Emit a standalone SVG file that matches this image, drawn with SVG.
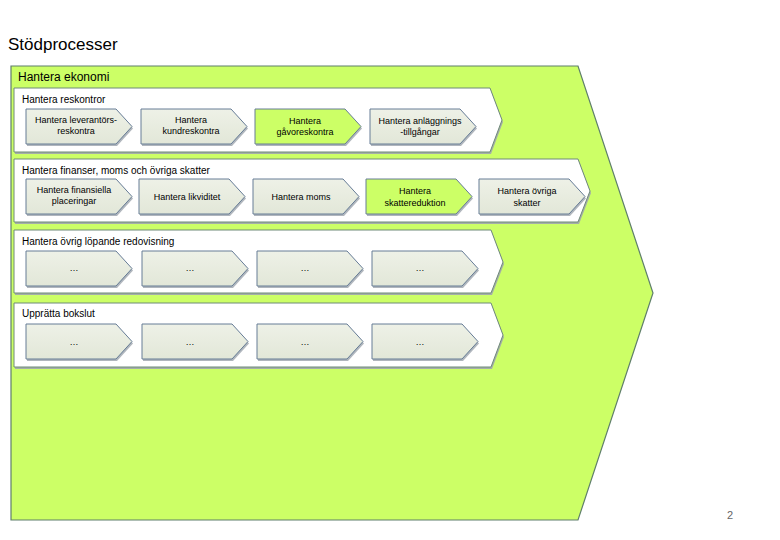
<svg xmlns="http://www.w3.org/2000/svg" width="780" height="540" viewBox="0 0 780 540">
<style>
text{font-family:"Liberation Sans",Arial,sans-serif;fill:#000}
.title{font-size:17px}
.h1{font-size:12px}
.h2{font-size:10px}
.t{font-size:9px;text-anchor:middle}
.band{fill:#fff;stroke:#6f8a78;stroke-width:1}
.bshadow{fill:#a4aea9}
.chev{fill:url(#g);stroke:#667c96;stroke-width:1}
.chevG{fill:#ccff66;stroke:#667c96;stroke-width:1}
.cshadow{fill:#b0b6bd}
</style>
<defs>
<linearGradient id="g" x1="0" y1="0" x2="0" y2="1">
<stop offset="0" stop-color="#eef1e7"/>
<stop offset="1" stop-color="#e2e7d8"/>
</linearGradient>
<polygon id="cv" points="0,0 90,0 106,17.5 90,35 0,35"/>
<polygon id="cs" points="1,2 91,2 107,19.5 91,37 1,37"/>
</defs>
<rect width="780" height="540" fill="#fff"/>
<text class="title" x="8" y="50">Stödprocesser</text>

<g id="ekonomi">
<polygon points="11,66 578,66 653,293 578,520 11,520" fill="#ccff66" stroke="#5f7f6a" stroke-width="1.2"/>
<text class="h1" x="18" y="81">Hantera ekonomi</text>
</g>

<g id="band-reskontror">
<polygon class="bshadow" points="15,90 491,90 503,122 491,154 15,154"/>
<polygon class="band" points="14,88 490,88 502,120 490,152 14,152"/>
<text class="h2" x="22" y="103">Hantera reskontror</text>
</g>
<g id="band-finanser">
<polygon class="bshadow" points="15,161 579,161 591,193 579,224 15,224"/>
<polygon class="band" points="14,159 578,159 590,191 578,222 14,222"/>
<text class="h2" x="22" y="174">Hantera finanser, moms och övriga skatter</text>
</g>
<g id="band-redovisning">
<polygon class="bshadow" points="15,232 492,232 504,264 492,295 15,295"/>
<polygon class="band" points="14,230 491,230 503,262 491,293 14,293"/>
<text class="h2" x="22" y="245">Hantera övrig löpande redovisning</text>
</g>
<g id="band-bokslut">
<polygon class="bshadow" points="15,305 492,305 504,337 492,369 15,369"/>
<polygon class="band" points="14,303 491,303 503,335 491,367 14,367"/>
<text class="h2" x="22" y="317">Upprätta bokslut</text>
</g>

<!-- Row 1 -->
<g id="leverantor" transform="translate(26,109)">
<use href="#cs" class="cshadow"/><use href="#cv" class="chev"/>
<text class="t" x="50" y="14">Hantera leverantörs-</text><text class="t" x="50" y="25">reskontra</text>
</g>
<g id="kund" transform="translate(141,109)">
<use href="#cs" class="cshadow"/><use href="#cv" class="chev"/>
<text class="t" x="50" y="14">Hantera</text><text class="t" x="50" y="25">kundreskontra</text>
</g>
<g id="gavo" transform="translate(255,109)">
<use href="#cs" class="cshadow"/><use href="#cv" class="chevG"/>
<text class="t" x="50" y="15">Hantera</text><text class="t" x="50" y="26">gåvoreskontra</text>
</g>
<g id="anlaggning" transform="translate(370,109)">
<use href="#cs" class="cshadow"/><use href="#cv" class="chev"/>
<text class="t" x="50" y="15">Hantera anläggnings</text><text class="t" x="50" y="26">-tillgångar</text>
</g>

<!-- Row 2 -->
<g id="finansiella" transform="translate(26,179)">
<use href="#cs" class="cshadow"/><use href="#cv" class="chev"/>
<text class="t" x="48" y="14">Hantera finansiella</text><text class="t" x="48" y="25">placeringar</text>
</g>
<g id="likviditet" transform="translate(139,179)">
<use href="#cs" class="cshadow"/><use href="#cv" class="chev"/>
<text class="t" x="48" y="21">Hantera likviditet</text>
</g>
<g id="moms" transform="translate(253,179)">
<use href="#cs" class="cshadow"/><use href="#cv" class="chev"/>
<text class="t" x="48" y="21">Hantera moms</text>
</g>
<g id="skattereduktion" transform="translate(366,179)">
<use href="#cs" class="cshadow"/><use href="#cv" class="chevG"/>
<text class="t" x="49" y="15">Hantera</text><text class="t" x="49" y="27">skattereduktion</text>
</g>
<g id="ovrigaskatter" transform="translate(479,179)">
<use href="#cs" class="cshadow"/><use href="#cv" class="chev"/>
<text class="t" x="48" y="15">Hantera övriga</text><text class="t" x="48" y="27">skatter</text>
</g>

<!-- Row 3 -->
<g id="r3a" transform="translate(26,251)"><use href="#cs" class="cshadow"/><use href="#cv" class="chev"/><text class="t" x="48" y="20">…</text></g>
<g id="r3b" transform="translate(142,251)"><use href="#cs" class="cshadow"/><use href="#cv" class="chev"/><text class="t" x="48" y="20">…</text></g>
<g id="r3c" transform="translate(257,251)"><use href="#cs" class="cshadow"/><use href="#cv" class="chev"/><text class="t" x="48" y="20">…</text></g>
<g id="r3d" transform="translate(372,251)"><use href="#cs" class="cshadow"/><use href="#cv" class="chev"/><text class="t" x="48" y="20">…</text></g>

<!-- Row 4 -->
<g id="r4a" transform="translate(26,324)"><use href="#cs" class="cshadow"/><use href="#cv" class="chev"/><text class="t" x="48" y="21">…</text></g>
<g id="r4b" transform="translate(142,324)"><use href="#cs" class="cshadow"/><use href="#cv" class="chev"/><text class="t" x="48" y="21">…</text></g>
<g id="r4c" transform="translate(257,324)"><use href="#cs" class="cshadow"/><use href="#cv" class="chev"/><text class="t" x="48" y="21">…</text></g>
<g id="r4d" transform="translate(372,324)"><use href="#cs" class="cshadow"/><use href="#cv" class="chev"/><text class="t" x="48" y="21">…</text></g>

<g id="connectors"></g>
<text x="727" y="519" style="font-size:11px;fill:#666">2</text>
</svg>
